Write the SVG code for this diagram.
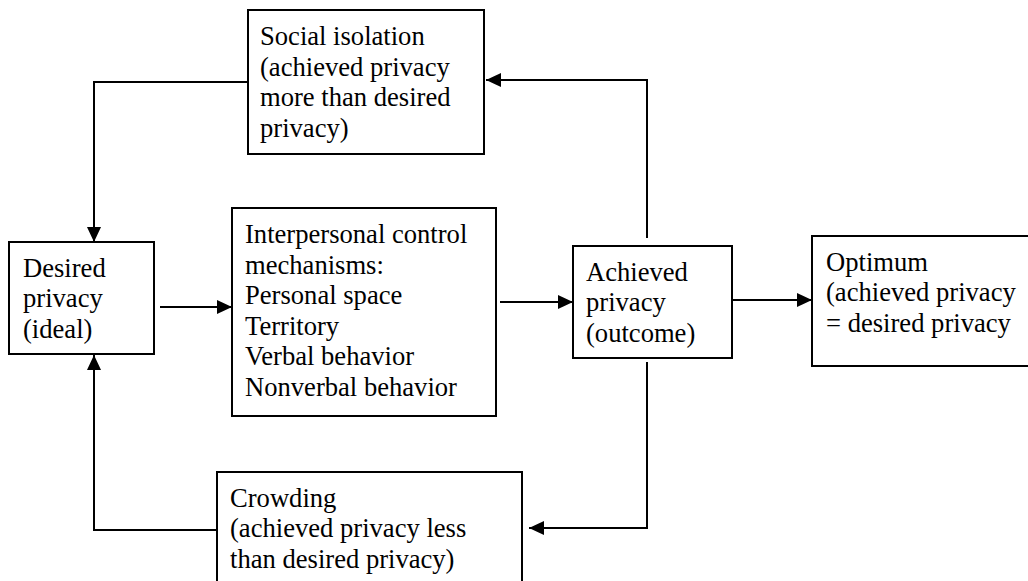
<svg xmlns="http://www.w3.org/2000/svg" width="1028" height="581" viewBox="0 0 1028 581">
<style>
.box{fill:#fff;stroke:#000;stroke-width:2}
.t{font-size:26.6px;fill:#000}
.c{fill:none;stroke:#000;stroke-width:2}
</style>
<defs>
<marker id="ah" viewBox="0 0 15 14" refX="15" refY="7" markerWidth="15" markerHeight="14" markerUnits="userSpaceOnUse" orient="auto">
<path d="M0,0 L15,7 L0,14 Z" fill="#000"/>
</marker>
</defs>
<rect width="1028" height="581" fill="#fff"/>
<g id="connectors">
<path class="c" d="M248,82 H94 V242" marker-end="url(#ah)"/>
<path class="c" d="M647,238 V80 H486" marker-end="url(#ah)"/>
<path class="c" d="M160,307 H232" marker-end="url(#ah)"/>
<path class="c" d="M500,302 H573" marker-end="url(#ah)"/>
<path class="c" d="M732,300 H812" marker-end="url(#ah)"/>
<path class="c" d="M647,362 V528 H529" marker-end="url(#ah)"/>
<path class="c" d="M217,530 H94 V355" marker-end="url(#ah)"/>
</g>
<g font-family="'Liberation Serif', Tinos, 'Times New Roman', Times, 'DejaVu Serif', serif">
<g id="social-isolation">
<rect class="box" x="248" y="10" width="236" height="144"/>
<text class="t" x="260" y="45">Social isolation</text>
<text class="t" x="260" y="76">(achieved privacy</text>
<text class="t" x="260" y="106">more than desired</text>
<text class="t" x="260" y="137">privacy)</text>
</g>
<g id="desired-privacy">
<rect class="box" x="9" y="242" width="145" height="112"/>
<text class="t" x="23" y="277">Desired</text>
<text class="t" x="23" y="307">privacy</text>
<text class="t" x="23" y="338">(ideal)</text>
</g>
<g id="interpersonal">
<rect class="box" x="232" y="208" width="264" height="208"/>
<text class="t" x="245" y="243">Interpersonal control</text>
<text class="t" x="245" y="274">mechanisms:</text>
<text class="t" x="245" y="304">Personal space</text>
<text class="t" x="245" y="335">Territory</text>
<text class="t" x="245" y="365">Verbal behavior</text>
<text class="t" x="245" y="396">Nonverbal behavior</text>
</g>
<g id="achieved-privacy">
<rect class="box" x="573" y="246" width="159" height="112"/>
<text class="t" x="586" y="281">Achieved</text>
<text class="t" x="586" y="311">privacy</text>
<text class="t" x="586" y="342">(outcome)</text>
</g>
<g id="optimum">
<rect class="box" x="812" y="236" width="230" height="130"/>
<text class="t" x="826" y="271">Optimum</text>
<text class="t" x="826" y="301">(achieved privacy</text>
<text class="t" x="826" y="332">= desired privacy</text>
</g>
<g id="crowding">
<rect class="box" x="217" y="472" width="305" height="130"/>
<text class="t" x="230" y="507">Crowding</text>
<text class="t" x="230" y="537">(achieved privacy less</text>
<text class="t" x="230" y="568">than desired privacy)</text>
</g>
</g>
</svg>
